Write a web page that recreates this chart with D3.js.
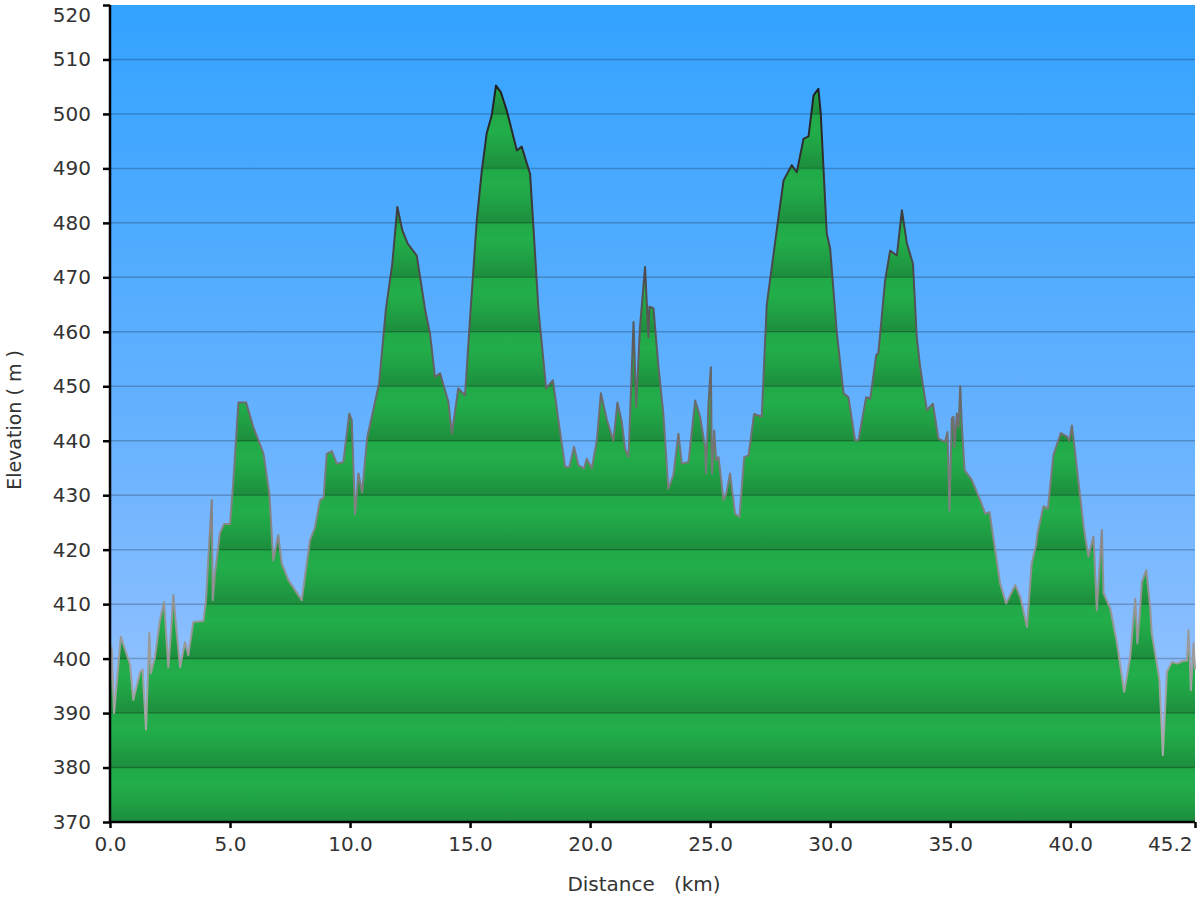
<!DOCTYPE html>
<html>
<head>
<meta charset="utf-8">
<script src="https://cdn.jsdelivr.net/npm/d3@7"></script>
<style>
html,body{margin:0;padding:0;background:#fff;}
svg{display:block;}
</style>
</head>
<body>
<svg id="chart" width="1200" height="900"></svg>
<script>
// Distance (km) along the route
const distanceKm = [0,0.07,0.17,0.45,0.83,0.97,1.25,1.36,1.43,1.5,1.64,1.7,1.875,2.08,2.25,2.43,2.53,2.64,2.74,2.92,3.125,3.26,3.47,3.89,4.0,4.1,4.24,4.28,4.375,4.58,4.75,5.0,5.14,5.35,5.67,5.97,6.39,6.64,6.8,7.01,7.15,7.43,7.99,8.33,8.54,8.75,8.9,9.03,9.24,9.45,9.72,9.97,10.07,10.21,10.35,10.5,10.72,11.21,11.49,11.76,11.97,12.18,12.4,12.78,13.13,13.33,13.54,13.75,14.1,14.24,14.51,14.79,15.0,15.28,15.49,15.69,15.9,16.08,16.28,16.53,16.95,17.15,17.5,17.64,17.85,18.17,18.45,18.68,18.96,19.14,19.33,19.51,19.75,19.86,20.07,20.28,20.45,20.7,20.97,21.14,21.32,21.46,21.6,21.81,21.92,22.08,22.29,22.43,22.47,22.64,22.85,23.05,23.26,23.47,23.68,23.82,24.1,24.38,24.58,24.79,24.83,24.93,25.03,25.08,25.17,25.25,25.35,25.56,25.67,25.83,26.04,26.22,26.42,26.6,26.83,27.15,27.36,27.85,28.06,28.4,28.61,28.89,29.1,29.31,29.51,29.61,29.86,30.0,30.28,30.56,30.76,31.04,31.18,31.5,31.67,31.92,32.01,32.29,32.5,32.78,32.99,33.2,33.45,33.61,33.75,34.03,34.28,34.51,34.79,34.89,34.97,35.07,35.14,35.18,35.28,35.35,35.42,35.49,35.6,35.9,36.25,36.46,36.64,37.08,37.33,37.71,37.92,38.2,38.4,38.58,38.64,38.89,39.07,39.3,39.61,39.86,39.97,40.07,40.17,40.56,40.76,40.97,41.11,41.32,41.39,41.67,41.95,42.25,42.5,42.71,42.8,42.89,42.99,43.17,43.33,43.4,43.61,43.72,43.86,44.03,44.24,44.45,44.72,44.86,44.93,45.03,45.14,45.2];
// Elevation (m)
const elevationM = [393,402,390,404,399,392.4,397.5,398,392.4,387,404.7,397.3,400.3,407,410.4,398.4,404.3,411.7,406.5,398.4,403,400.6,406.7,406.9,410.7,418.6,429.1,410.7,415.7,423,424.7,424.7,432.7,447,447,442.5,437.7,430.3,418,422.7,417.5,414.4,410.7,421.7,424.1,429.1,429.5,437.6,438.1,435.8,436.1,445,443.8,426.5,434,430.5,440.7,450.5,464,472.5,482.9,478.6,476.2,474,464,459.7,451.7,452.4,447.1,441.3,449.6,448.3,462.5,480.5,489.6,496.4,499.7,505.2,504,500.6,493.3,494,489,479.2,464,449.6,451.1,443.8,435.2,435.2,438.9,435.5,434.9,436.7,434.9,440,448.7,443.8,440,447,443.5,438.5,437,461.8,446.2,460.9,471.9,459,464.6,464.3,453.5,445,431.2,433.7,441.3,435.8,436.1,447.4,444.4,438.9,434,446.8,453.5,434,441.9,436.4,437,429.1,430.3,434,426.6,426,437,437.3,444.9,444.4,465,481.1,487.8,490.6,489.3,495.4,495.9,503.4,504.6,500,478,475.3,459.7,448.7,448,440.1,440.1,448,447.7,455.7,456.1,469.4,474.9,474,482.3,476.2,472.5,459,453.5,445.6,446.8,440.4,439.8,441.6,427.2,444.1,444.4,438.9,445,442.5,450,442.5,434.6,432.8,429.1,426.6,426.9,413.8,410.1,413.5,411.3,405.8,417.5,420.8,423,428,427.5,437.3,441.4,440.8,440,442.8,439.2,424.2,418.7,422.4,408.9,423.6,412,409.2,402.8,393.9,400.3,411,402.8,407.7,414.1,416.2,409.5,404.6,399.1,396,382.3,397.6,399.4,399.1,399.6,399.6,405.2,394.2,402.8,398];
const yTicks = [370,380,390,400,410,420,430,440,450,460,470,480,490,500,510,520];
const xTicks = [0,5,10,15,20,25,30,35,40,45.2];
const xTickLabels = ["0.0","5.0","10.0","15.0","20.0","25.0","30.0","35.0","40.0","45.2"];
const xTitle = "Distance   (km)";
const yTitle = "Elevation ( m )";

const data = distanceKm.map((d,i)=>({x:d,y:elevationM[i]}));
const L=110, R=1195, T=5, B=822;
const svg = d3.select("#chart");
const x = d3.scaleLinear().domain([0,45.2]).range([L,R]);
const y = d3.scaleLinear().domain([370,520]).range([B,T]);
const font = "'DejaVu Sans', Verdana, sans-serif";

const defs = svg.append("defs");
const bg = defs.append("linearGradient").attr("id","bg").attr("x1",0).attr("y1",0).attr("x2",0).attr("y2",1);
bg.append("stop").attr("offset",0).attr("stop-color","#33a3ff");
bg.append("stop").attr("offset",0.5).attr("stop-color","#64b1ff");
bg.append("stop").attr("offset",1).attr("stop-color","#a7c8ff");

const band = defs.append("linearGradient").attr("id","band")
  .attr("gradientUnits","userSpaceOnUse").attr("spreadMethod","repeat")
  .attr("x1",0).attr("x2",0).attr("y1",y(380)).attr("y2",y(370));
band.append("stop").attr("offset",0).attr("stop-color","#21a948");
band.append("stop").attr("offset",0.3).attr("stop-color","#22ae4a");
band.append("stop").attr("offset",0.6).attr("stop-color","#20a245");
band.append("stop").attr("offset",1).attr("stop-color","#1d8d3d");

const strokeG = defs.append("linearGradient").attr("id","strokeG")
  .attr("gradientUnits","userSpaceOnUse")
  .attr("x1",0).attr("x2",0).attr("y1",y(506)).attr("y2",y(385));
strokeG.append("stop").attr("offset",0).attr("stop-color","#1e1e1e");
strokeG.append("stop").attr("offset",0.35).attr("stop-color","#555");
strokeG.append("stop").attr("offset",0.7).attr("stop-color","#8a8a8a");
strokeG.append("stop").attr("offset",1).attr("stop-color","#a8a8a8");

svg.append("rect").attr("x",L).attr("y",T).attr("width",R-L).attr("height",B-T).attr("fill","url(#bg)");

const area = d3.area().x(d=>x(d.x)).y0(y(370)).y1(d=>y(d.y));
const line = d3.line().x(d=>x(d.x)).y(d=>y(d.y));
svg.append("path").datum(data).attr("d",area).attr("fill","url(#band)");

// grid lines
svg.append("g").selectAll("line").data(yTicks.filter(t=>t>370 && t<520)).join("line")
  .attr("x1",L).attr("x2",R).attr("y1",d=>y(d)).attr("y2",d=>y(d))
  .attr("stroke","rgba(0,0,0,0.22)").attr("stroke-width",1.5);

svg.append("path").datum(data).attr("d",line).attr("fill","none")
  .attr("stroke","url(#strokeG)").attr("stroke-width",2).attr("stroke-linejoin","round");

// axes
const yAxis = d3.axisLeft(y).tickValues(yTicks).tickSize(7).tickPadding(12).tickFormat(d3.format("d"));
const gy = svg.append("g").attr("transform",`translate(${L},0)`).call(yAxis);
gy.select(".domain").attr("stroke","#000").attr("stroke-width",2.5).attr("d",`M0,${T}V${B}`);
gy.selectAll(".tick line").attr("stroke","#000").attr("stroke-width",2.5);
gy.selectAll(".tick text").attr("font-family",font).attr("font-size",20).attr("fill","#333");
gy.selectAll(".tick").filter(d=>d===520).select("text").attr("dy","0.8em");

const xAxis = d3.axisBottom(x).tickValues(xTicks).tickSize(6).tickPadding(9).tickFormat((d,i)=>xTickLabels[i]);
const gx = svg.append("g").attr("transform",`translate(0,${B})`).call(xAxis);
gx.select(".domain").attr("stroke","#000").attr("stroke-width",2.5).attr("d",`M${L},0H${R}`);
gx.selectAll(".tick line").attr("stroke","#000").attr("stroke-width",2.5);
gx.selectAll(".tick text").attr("font-family",font).attr("font-size",20).attr("fill","#333");
gx.selectAll(".tick").filter(d=>d===45.2).select("text").attr("text-anchor","end").attr("x",-3);

svg.append("text").attr("x",644).attr("y",891).attr("text-anchor","middle")
  .attr("font-family",font).attr("font-size",20).attr("fill","#333").attr("xml:space","preserve").text(xTitle);
svg.append("text").attr("transform","translate(21,420) rotate(-90)").attr("text-anchor","middle")
  .attr("font-family",font).attr("font-size",19).attr("fill","#333").text(yTitle);
</script>
</body>
</html>
